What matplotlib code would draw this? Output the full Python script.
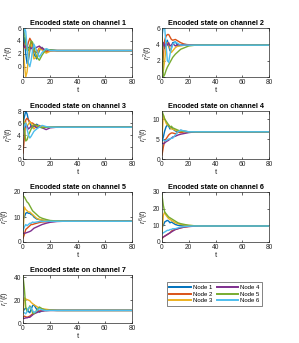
import matplotlib
matplotlib.use("Agg")
import matplotlib.pyplot as plt

plt.rcParams['font.family'] = ['Liberation Sans', 'DejaVu Sans']
plt.rcParams['mathtext.fontset'] = 'custom'
plt.rcParams['mathtext.rm'] = 'Liberation Sans'
plt.rcParams['mathtext.it'] = 'Liberation Sans:italic'

t = [0, 1, 2, 3, 4, 5, 6, 7, 8, 10, 12, 14, 17, 20, 25, 30, 80]
node_labels = ["Node 1", "Node 2", "Node 3", "Node 4", "Node 5", "Node 6"]
colors = ["#0072BD", "#D95319", "#EDB120", "#7E2F8E", "#77AC30", "#4DBEEE"]

ch1 = [
    [3.5, 4.5, 2.0, 0.5, 1.0, 2.5, 3.8, 3.5, 2.0, 1.2, 2.5, 3.0, 2.2, 2.6, 2.5, 2.5, 2.5],
    [4.0, 3.2, 2.8, 3.0, 3.8, 4.4, 4.0, 3.2, 2.4, 2.2, 2.9, 2.9, 2.3, 2.5, 2.5, 2.5, 2.5],
    [3.0, 0.5, -1.6, -0.8, 1.5, 3.3, 3.5, 2.5, 1.2, 1.5, 2.8, 2.6, 2.1, 2.4, 2.5, 2.5, 2.5],
    [3.5, 3.0, 3.2, 2.8, 3.0, 3.0, 2.8, 3.0, 2.8, 3.0, 3.2, 2.8, 2.6, 2.5, 2.5, 2.5, 2.5],
    [6.0, 5.2, 3.8, 2.5, 2.5, 3.2, 4.0, 3.8, 3.0, 1.5, 1.0, 1.8, 2.7, 2.6, 2.5, 2.5, 2.5],
    [4.0, 6.0, 5.5, 3.0, 0.5, 0.0, 1.0, 2.5, 3.5, 2.5, 1.5, 2.2, 2.8, 2.5, 2.5, 2.5, 2.5],
]
ch2 = [
    [4.5, 4.0, 3.5, 4.0, 4.5, 3.8, 3.2, 3.5, 4.2, 4.3, 3.8, 3.9, 4.0, 3.9, 3.9, 3.9, 3.9],
    [0.6, 2.5, 4.5, 5.0, 5.2, 5.2, 4.9, 4.6, 4.5, 4.6, 4.4, 4.2, 4.0, 3.95, 3.9, 3.9, 3.9],
    [1.0, 0.8, 2.0, 3.5, 4.2, 4.0, 3.5, 3.0, 3.2, 3.6, 3.8, 3.8, 3.9, 3.9, 3.9, 3.9, 3.9],
    [3.5, 4.2, 3.8, 4.1, 3.9, 4.2, 3.8, 3.9, 4.1, 3.8, 4.0, 3.9, 3.9, 3.9, 3.9, 3.9, 3.9],
    [5.5, 0.0, 0.3, 0.8, 1.2, 1.5, 1.8, 2.1, 2.4, 2.8, 3.1, 3.4, 3.6, 3.8, 3.9, 3.9, 3.9],
    [5.0, 6.0, 6.0, 4.0, 2.0, 1.8, 2.8, 3.5, 4.0, 4.3, 4.1, 3.9, 3.9, 3.9, 3.9, 3.9, 3.9],
]
ch3 = [
    [6.0, 7.0, 8.0, 7.5, 6.5, 6.0, 5.5, 5.2, 5.5, 5.8, 5.5, 5.4, 5.3, 5.3, 5.3, 5.3, 5.3],
    [1.0, 3.5, 6.5, 6.8, 6.5, 6.2, 6.0, 6.0, 5.8, 5.6, 5.4, 5.4, 5.3, 5.3, 5.3, 5.3, 5.3],
    [6.0, 6.2, 6.0, 5.5, 5.8, 6.2, 6.0, 5.5, 5.0, 5.5, 5.6, 5.4, 5.3, 5.3, 5.3, 5.3, 5.3],
    [5.0, 5.2, 5.5, 5.5, 5.0, 5.2, 5.5, 5.4, 5.6, 5.2, 5.5, 5.2, 4.9, 5.2, 5.3, 5.3, 5.3],
    [7.5, 5.0, 3.0, 3.2, 4.0, 4.5, 5.0, 5.5, 5.7, 5.6, 5.3, 5.2, 5.3, 5.3, 5.3, 5.3, 5.3],
    [5.0, 5.5, 6.0, 5.0, 4.0, 3.5, 3.8, 4.2, 4.6, 5.0, 5.3, 5.6, 5.4, 5.3, 5.3, 5.3, 5.3],
]
ch4 = [
    [4.5, 5.5, 7.0, 8.0, 8.5, 8.2, 7.5, 8.0, 7.5, 7.0, 6.8, 7.2, 6.9, 6.8, 6.8, 6.8, 6.8],
    [1.0, 3.0, 4.5, 5.0, 5.5, 6.0, 6.3, 6.5, 6.5, 6.3, 6.7, 6.6, 6.8, 6.8, 6.8, 6.8, 6.8],
    [5.5, 11.0, 10.0, 9.0, 8.5, 8.5, 8.0, 7.5, 7.5, 7.2, 7.0, 7.0, 6.9, 6.8, 6.8, 6.8, 6.8],
    [4.0, 3.8, 4.0, 4.3, 4.5, 4.7, 5.0, 5.2, 5.5, 5.7, 6.0, 6.2, 6.4, 6.6, 6.8, 6.8, 6.8],
    [12.0, 11.0, 10.0, 9.5, 9.0, 8.5, 8.0, 8.2, 7.8, 7.5, 7.2, 7.0, 6.9, 6.8, 6.8, 6.8, 6.8],
    [5.0, 4.8, 4.5, 4.6, 4.8, 5.0, 5.0, 5.2, 5.2, 6.0, 6.8, 7.2, 7.0, 6.8, 6.8, 6.8, 6.8],
]
ch5 = [
    [9.0, 10.0, 11.5, 11.8, 11.5, 11.5, 11.0, 10.8, 10.0, 9.2, 9.0, 8.7, 8.5, 8.4, 8.3, 8.3, 8.3],
    [1.5, 3.0, 5.0, 5.5, 6.0, 6.5, 7.0, 7.0, 7.2, 7.5, 7.8, 8.0, 8.1, 8.2, 8.3, 8.3, 8.3],
    [2.5, 14.0, 13.0, 12.5, 12.0, 12.0, 11.5, 11.0, 10.5, 9.5, 9.0, 8.8, 8.6, 8.4, 8.3, 8.3, 8.3],
    [3.5, 3.5, 3.6, 3.8, 4.0, 4.2, 4.5, 5.0, 5.5, 6.0, 6.5, 7.0, 7.5, 7.9, 8.2, 8.3, 8.3],
    [18.5, 18.0, 17.0, 16.0, 15.5, 14.5, 13.5, 12.5, 12.0, 11.0, 10.0, 9.5, 9.0, 8.6, 8.4, 8.3, 8.3],
    [4.5, 6.0, 7.0, 6.5, 7.0, 7.5, 7.5, 8.0, 7.8, 8.0, 8.2, 8.2, 8.3, 8.3, 8.3, 8.3, 8.3],
]
ch6 = [
    [9.0, 10.0, 12.0, 12.5, 13.0, 12.5, 11.5, 12.0, 11.5, 10.5, 10.0, 9.8, 9.7, 9.6, 9.6, 9.6, 9.6],
    [2.0, 3.0, 3.5, 4.0, 4.5, 5.0, 5.5, 6.5, 7.0, 7.5, 8.0, 8.5, 9.0, 9.3, 9.6, 9.6, 9.6],
    [5.0, 16.0, 18.0, 16.0, 15.0, 14.0, 13.5, 13.0, 12.5, 11.5, 11.0, 10.5, 10.2, 10.0, 9.7, 9.6, 9.6],
    [2.5, 3.0, 3.5, 4.0, 4.5, 5.0, 5.5, 6.0, 6.5, 7.5, 8.0, 8.5, 9.0, 9.3, 9.5, 9.6, 9.6],
    [28.0, 22.0, 18.0, 17.0, 16.0, 15.0, 14.5, 14.0, 13.5, 12.5, 11.5, 11.0, 10.5, 10.0, 9.7, 9.6, 9.6],
    [5.0, 5.5, 6.0, 6.5, 7.0, 7.0, 7.5, 7.5, 8.0, 8.0, 8.5, 9.0, 9.3, 9.5, 9.6, 9.6, 9.6],
]
ch7 = [
    [10.0, 12.0, 13.0, 12.0, 10.0, 9.0, 12.0, 15.0, 16.0, 12.0, 9.5, 10.5, 11.5, 11.2, 11.0, 11.0, 11.0],
    [5.0, 6.0, 5.5, 5.0, 5.5, 6.0, 7.0, 8.0, 9.0, 10.0, 10.5, 10.8, 11.0, 11.0, 11.0, 11.0, 11.0],
    [8.0, 22.0, 21.0, 20.5, 20.0, 19.5, 18.0, 17.0, 16.0, 14.5, 13.0, 12.5, 12.0, 11.5, 11.1, 11.0, 11.0],
    [4.0, 4.0, 4.5, 4.5, 5.0, 5.0, 6.0, 7.0, 8.0, 9.0, 10.0, 10.5, 10.8, 11.0, 11.0, 11.0, 11.0],
    [41.0, 30.0, 14.0, 10.0, 12.0, 15.0, 13.0, 9.0, 8.0, 11.0, 14.0, 12.5, 11.0, 11.2, 11.0, 11.0, 11.0],
    [10.0, 9.0, 8.0, 10.0, 13.0, 14.0, 13.0, 11.0, 9.0, 10.5, 12.5, 11.5, 10.8, 11.0, 11.0, 11.0, 11.0],
]

channels = [ch1, ch2, ch3, ch4, ch5, ch6, ch7]
ylims = [(-1.6, 6), (0, 6), (0, 8), (0, 12), (0, 20), (0, 30), (0, 42)]
yticks = [[0, 2, 4, 6], [0, 2, 4, 6], [0, 2, 4, 6, 8], [0, 5, 10], [0, 10, 20], [0, 10, 20, 30], [0, 20, 40]]
xticks = [0, 20, 40, 60, 80]

W, H = 299, 343
fig = plt.figure(figsize=(W / 100, H / 100), dpi=100)

lefts = [23, 162]
widths = [109, 107]
rows = [(28, 77), (111, 159), (192, 242), (275, 323)]
axc = '#262626'

last_lines = None
for k, ch in enumerate(channels):
    r, c = divmod(k, 2)
    top, bot = rows[r]
    ax = fig.add_axes([lefts[c] / W, 1 - bot / H, widths[c] / W, (bot - top) / H])
    lines = []
    for i, series in enumerate(ch):
        ln, = ax.plot(t, series, color=colors[i], lw=1.0)
        lines.append(ln)
    last_lines = lines
    ax.set_xlim(0, 80)
    ax.set_ylim(*ylims[k])
    ax.set_xticks(xticks)
    ax.set_yticks(yticks[k])
    ax.tick_params(direction='in', length=1.8, width=0.5, labelsize=4.8, pad=1.5,
                   colors=axc, top=True, right=True)
    for s in ax.spines.values():
        s.set_linewidth(0.5)
        s.set_color(axc)
    ax.set_title(f"Encoded state on channel {k + 1}", fontsize=5.2, fontweight='bold', pad=2)
    ax.set_xlabel("t", fontsize=5.5, labelpad=1, color=axc)
    ax.set_ylabel(r"$r_i^{%d}(t)$" % (k + 1), fontsize=5.5, labelpad=1, color=axc)

leg = fig.legend(last_lines, node_labels, ncol=2, fontsize=4.3,
                 loc='center', bbox_to_anchor=(214.5 / W, 1 - 294 / H),
                 frameon=True, fancybox=False, handlelength=3.6, handletextpad=0.3,
                 columnspacing=0.8, labelspacing=0.25, borderpad=0.4)
leg.get_frame().set_edgecolor('#262626')
leg.get_frame().set_linewidth(0.5)
for ln in leg.get_lines():
    ln.set_linewidth(1.4)

fig.savefig("out.png", dpi=100)
